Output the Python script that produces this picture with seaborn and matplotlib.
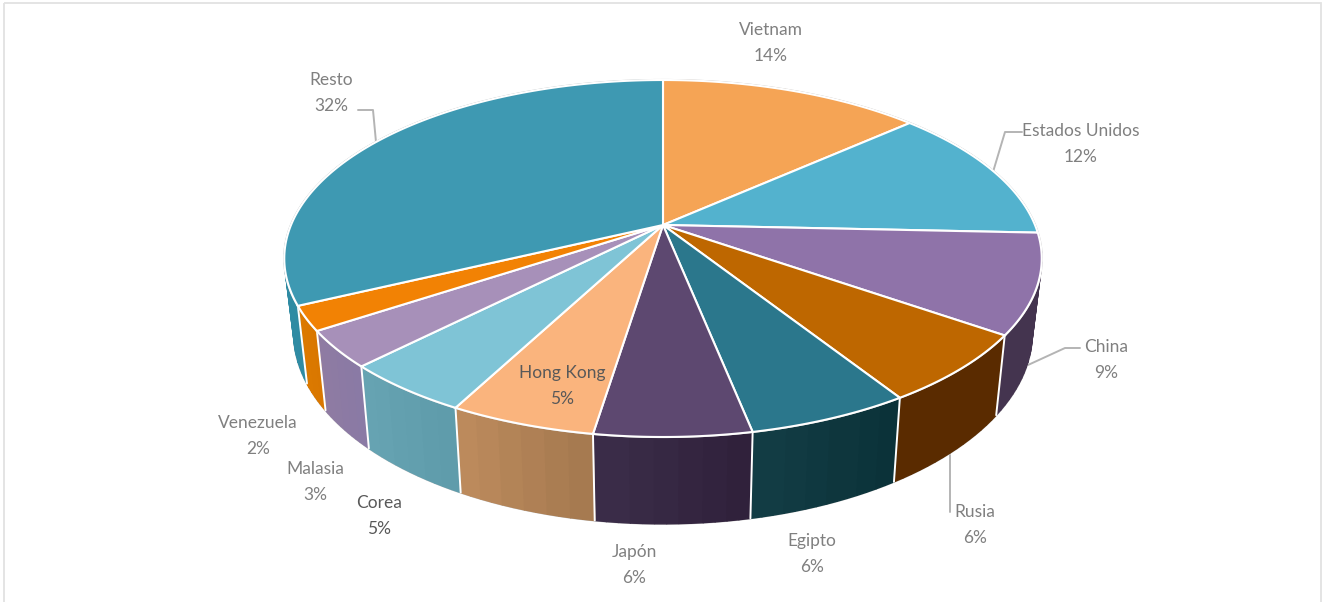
import numpy as np
import matplotlib
matplotlib.use("Agg")
import matplotlib.pyplot as plt
from matplotlib.colors import to_rgb
from matplotlib.path import Path
from matplotlib.patches import Rectangle
import seaborn as sns

# ---- data ----
countries = ["Vietnam", "Estados Unidos", "China", "Rusia", "Egipto", "Japón",
             "Hong Kong", "Corea", "Malasia", "Venezuela", "Resto"]
shares = [13.4, 12.3, 9.0, 6.3, 5.85, 5.6, 5.25, 4.7, 3.3, 2.2, 32.1]
percent_labels = [14, 12, 9, 6, 6, 6, 5, 5, 3, 2, 32]
top_colors = ["#F5A455", "#53B2CE", "#8F73A9", "#BE6700", "#2B778C", "#5D4870",
              "#FAB47D", "#7FC4D6", "#A790B9", "#F28204", "#3E99B2"]
wall_left = ["#C08040", "#3A8AA0", "#44344F", "#5A2B00", "#123C44", "#3A2C48",
             "#BC8A5C", "#66A3B2", "#8F7BA2", "#DC7A00", "#2C8AA2"]
wall_right = ["#C08040", "#3A8AA0", "#44344F", "#5A2B00", "#0B3239", "#30213B",
              "#A67A50", "#5F9CAB", "#8A7AA5", "#D97700", "#2F8BA3"]
label_xy = [(771, 43), (1081, 144), (1106, 360), (975, 525), (812, 554), (634, 565),
            (562, 386), (379, 516), (315, 482), (258, 436), (331, 93)]
label_colors = ["#808080"] * 6 + ["#595959", "#595959"] + ["#808080"] * 3
leaders = [[(358, 110), (373, 110), (376, 142)],
           [(1022, 132), (1005, 132), (993, 172)],
           [(1080, 348), (1065, 348), (1028, 365)],
           [(950, 455), (950, 512)]]

# ---- perspective of the disc ----
CX, CY, RX, RY, K = 663.0, 225.0, 372.0, 172.2, 0.1877


def top_ring(phi):
    u, v = np.cos(phi), np.sin(phi)
    w = 1 + K * v
    return CX + RX * u / w, CY - RY * v / w


def bottom_ring(phi):
    x, y = top_ring(phi)
    return CX + 0.975 * (x - CX), 297 + 1.07 * (y - CY)


sns.set_theme(style="white")
plt.rcParams["font.family"] = ["Lato", "DejaVu Sans"]

fig = plt.figure(figsize=(13.22, 6.02), dpi=100, facecolor="white")
ax = fig.add_axes([0, 0, 1, 1])

wedges, _ = ax.pie(shares, startangle=90, counterclock=False, colors=top_colors,
                   wedgeprops=dict(edgecolor="white", linewidth=1.5, zorder=5))
ax.set_aspect("auto")
ax.set_xlim(0, 1322)
ax.set_ylim(602, 0)
ax.set_axis_off()

ax.add_patch(Rectangle((4, 3), 1317, 640, fill=False, edgecolor="#E2E2E2", linewidth=1.3))

# outer silhouette hairline
ring = np.radians(np.linspace(0, 360, 721))
ax.plot(*top_ring(ring), color="#C4C4C4", lw=1.6, zorder=4.5)
front = np.radians(np.linspace(172, 368, 400))
ax.plot(*bottom_ring(front), color="#C4C4C4", lw=1.4, zorder=1)

for i, wedge in enumerate(wedges):
    t1, t2 = wedge.theta1, wedge.theta2
    phi = np.radians(np.linspace(t1, t2, 120))
    x, y = top_ring(phi)
    verts = np.vstack([[CX, CY], np.column_stack([x, y]), [CX, CY]])
    codes = [Path.MOVETO] + [Path.LINETO] * len(x) + [Path.CLOSEPOLY]
    wedge._path = Path(verts, codes)

    # side wall: fine strips (accurate silhouette) grouped into six shaded bands
    n_strips = max(12, int((t2 - t1) / 1.5))
    edges = np.radians(np.linspace(t1, t2, n_strips + 1))  # left to right on the front
    c0, c1 = np.array(to_rgb(wall_left[i])), np.array(to_rgb(wall_right[i]))
    for s in range(n_strips):
        p = edges[s:s + 2]
        xt, yt = top_ring(p)
        xb, yb = bottom_ring(p)
        frac = int(6 * s / n_strips) / 5
        col = c0 + (c1 - c0) * frac
        ax.fill(np.r_[xt, xb[::-1]], np.r_[yt, yb[::-1]], color=col, lw=1.0, zorder=2)

    # white seam on the wall, only on the visible front half
    p = np.radians(t1)
    if np.sin(p) < -0.2:
        xt, yt = top_ring(p)
        xb, yb = bottom_ring(p)
        ax.plot([xt, xb], [yt, yb], color="white", lw=1.4, zorder=3)

    lx, ly = label_xy[i]
    ax.text(lx, ly, f"{countries[i]}\n{percent_labels[i]}%", ha="center", va="center",
            fontsize=12.5, color=label_colors[i], linespacing=1.72, zorder=8)

for pts in leaders:
    xs, ys = zip(*pts)
    ax.plot(xs, ys, color="#B4B4B4", lw=1.4, zorder=1.5)

fig.savefig("out.png", dpi=100, facecolor="white")
